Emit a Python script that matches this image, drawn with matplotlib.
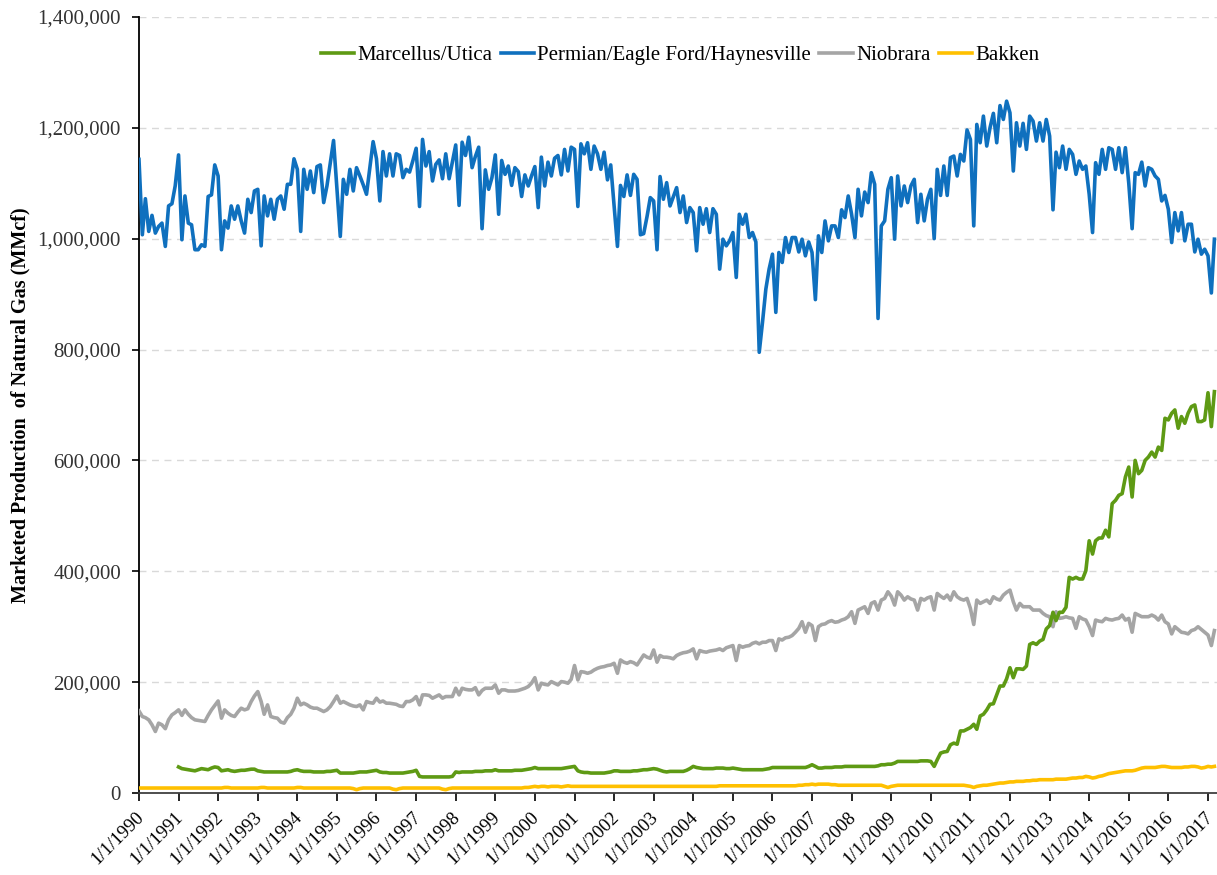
import numpy as np
import pandas as pd
import matplotlib
matplotlib.use("Agg")
import matplotlib.pyplot as plt
import matplotlib.dates as mdates
import matplotlib.transforms as mtransforms
from matplotlib.ticker import FuncFormatter, MultipleLocator

# monthly marketed production, thousands of MMcf, Jan 1990 - Mar 2017
permian = [
    1143, 1007, 1072, 1013, 1042, 1010, 1022, 1028, 986, 1059, 1063, 1095,
    1151, 998, 1077, 1028, 1025, 980, 980, 989, 986, 1076, 1079, 1133,
    1113, 980, 1032, 1019, 1059, 1035, 1059, 1032, 1010, 1071, 1047, 1086,
    1089, 987, 1077, 1041, 1071, 1035, 1071, 1077, 1053, 1098, 1098, 1144,
    1125, 1013, 1125, 1089, 1122, 1083, 1130, 1133, 1065, 1095, 1136, 1177,
    1090, 1004, 1107, 1080, 1125, 1086, 1128, 1113, 1097, 1080, 1128, 1175,
    1144, 1068, 1157, 1113, 1153, 1113, 1153, 1150, 1110, 1125, 1120, 1140,
    1163, 1058, 1179, 1131, 1157, 1104, 1134, 1142, 1108, 1153, 1108, 1138,
    1169, 1060, 1174, 1150, 1183, 1128, 1148, 1165, 1018, 1124, 1089, 1110,
    1151, 1044, 1141, 1116, 1131, 1096, 1128, 1121, 1076, 1115, 1095, 1113,
    1130, 1056, 1147, 1095, 1138, 1113, 1145, 1150, 1115, 1161, 1122, 1165,
    1161, 1058, 1171, 1153, 1173, 1125, 1167, 1153, 1125, 1156, 1106, 1133,
    1060, 986, 1096, 1076, 1115, 1078, 1116, 1107, 1007, 1009, 1040, 1074,
    1068, 980, 1112, 1071, 1101, 1059, 1075, 1092, 1047, 1077, 1029, 1056,
    1047, 978, 1056, 1026, 1054, 1011, 1054, 1044, 945, 999, 987, 996,
    1011, 930, 1044, 1026, 1044, 1002, 1011, 994, 795, 849, 909, 945,
    972, 867, 975, 957, 1002, 975, 1002, 1002, 976, 999, 969, 994,
    975, 890, 1005, 975, 1032, 996, 1023, 1023, 1002, 1052, 1038, 1077,
    1044, 1002, 1089, 1041, 1084, 1065, 1119, 1098, 856, 1023, 1032, 1089,
    1110, 999, 1113, 1059, 1095, 1065, 1095, 1107, 1029, 1080, 1032, 1071,
    1089, 1000, 1125, 1078, 1131, 1078, 1146, 1149, 1113, 1152, 1140, 1196,
    1179, 1023, 1206, 1173, 1221, 1167, 1200, 1226, 1173, 1240, 1215, 1248,
    1227, 1122, 1209, 1167, 1208, 1161, 1221, 1212, 1176, 1209, 1176, 1215,
    1185, 1052, 1156, 1128, 1167, 1125, 1161, 1152, 1116, 1140, 1125, 1131,
    1080, 1011, 1137, 1116, 1161, 1125, 1164, 1161, 1125, 1164, 1119, 1164,
    1100, 1018, 1119, 1116, 1138, 1095, 1128, 1125, 1113, 1107, 1068, 1078,
    1053, 993, 1047, 1014, 1047, 996, 1026, 1026, 976, 999, 972, 981,
    969, 902, 999,
]

niobrara = [
    148, 138, 136, 132, 123, 111, 126, 123, 116, 132, 141, 145,
    150, 140, 150, 142, 136, 132, 131, 130, 129, 140, 150, 158,
    166, 135, 150, 144, 140, 138, 146, 153, 150, 152, 165, 175,
    183, 165, 142, 159, 138, 136, 135, 128, 126, 136, 142, 153,
    171, 159, 162, 159, 155, 153, 153, 150, 147, 150, 156, 165,
    175, 162, 165, 162, 159, 157, 156, 159, 150, 165, 163, 162,
    171, 164, 166, 162, 162, 161, 160, 157, 156, 165, 165, 168,
    174, 159, 177, 177, 176, 171, 174, 177, 171, 174, 174, 174,
    189, 177, 189, 187, 186, 186, 190, 177, 185, 189, 189, 189,
    195, 180, 186, 186, 184, 184, 184, 185, 187, 189, 192, 198,
    208, 186, 198, 196, 195, 201, 198, 195, 201, 200, 198, 205,
    230, 204, 219, 218, 216, 218, 222, 225, 227, 228, 230, 231,
    234, 216, 240, 236, 234, 237, 235, 231, 240, 249, 245, 243,
    258, 236, 248, 245, 245, 244, 242, 248, 251, 253, 254, 256,
    260, 242, 257, 255, 254, 256, 257, 258, 260, 257, 262, 264,
    266, 239, 266, 263, 265, 266, 270, 272, 269, 272, 272, 275,
    275, 257, 278, 276, 280, 281, 284, 290, 297, 309, 290, 306,
    302, 275, 300, 304, 305, 309, 311, 308, 309, 312, 314, 318,
    327, 306, 330, 333, 336, 324, 342, 345, 330, 348, 351, 363,
    355, 339, 363, 357, 348, 354, 350, 348, 330, 351, 348, 352,
    354, 330, 360, 355, 351, 357, 348, 363, 354, 350, 348, 351,
    333, 304, 348, 342, 345, 348, 342, 354, 350, 348, 357, 362,
    366, 345, 330, 342, 336, 336, 336, 330, 330, 330, 324, 320,
    318, 300, 327, 315, 316, 318, 316, 315, 297, 318, 314, 312,
    300, 284, 312, 310, 309, 315, 313, 312, 314, 315, 321, 312,
    315, 290, 324, 321, 318, 318, 318, 321, 318, 312, 321, 309,
    305, 287, 300, 295, 290, 289, 287, 293, 295, 300, 295, 290,
    285, 266, 293,
]

# Marcellus/Utica series begins Jan 1991
marcellus = [
    47, 44, 43, 42, 41, 40, 42, 44, 43, 42, 45, 47,
    46, 40, 41, 42, 40, 39, 40, 41, 41, 42, 43, 43,
    40, 39, 38, 38, 38, 38, 38, 38, 38, 38, 39, 41,
    42, 40, 39, 39, 39, 38, 38, 38, 38, 39, 39, 40,
    41, 36, 36, 36, 36, 36, 37, 38, 38, 38, 39, 40,
    41, 38, 37, 37, 36, 36, 36, 36, 36, 37, 38, 39,
    41, 30, 29, 29, 29, 29, 29, 29, 29, 29, 29, 30,
    38, 37, 38, 38, 38, 38, 39, 39, 39, 40, 40, 40,
    42, 40, 40, 40, 40, 40, 41, 41, 41, 42, 43, 44,
    46, 44, 44, 44, 44, 44, 44, 44, 44, 45, 46, 47,
    48, 40, 38, 37, 37, 36, 36, 36, 36, 36, 37, 38,
    40, 40, 39, 39, 39, 39, 40, 40, 41, 42, 42, 43,
    44, 43, 41, 39, 38, 39, 39, 39, 39, 39, 41, 44,
    48, 46, 45, 44, 44, 44, 44, 45, 45, 45, 44, 44,
    45, 44, 43, 42, 42, 42, 42, 42, 42, 42, 43, 44,
    46, 46, 46, 46, 46, 46, 46, 46, 46, 46, 46, 48,
    51, 48, 45, 45, 46, 46, 46, 47, 47, 47, 48, 48,
    48, 48, 48, 48, 48, 48, 48, 48, 49, 51, 51, 52,
    52, 54, 57, 57, 57, 57, 57, 57, 57, 58, 58, 58,
    57, 48, 60, 72, 74, 75, 87, 90, 88, 112, 112, 115,
    118, 124, 115, 139, 142, 150, 160, 161, 177, 193, 193, 206,
    226, 208, 224, 224, 223, 229, 268, 271, 268, 274, 277, 296,
    302, 326, 311, 326, 326, 335, 389, 386, 389, 386, 386, 401,
    455, 431, 455, 460, 460, 474, 462, 522, 528, 537, 540, 570,
    588, 534, 600, 576, 582, 600, 606, 615, 606, 624, 618, 676,
    673, 685, 691, 658, 679, 667, 685, 697, 700, 670, 670, 673,
    722, 661, 724,
]

bakken = [
    9, 9, 9, 9, 9, 9, 9, 9, 9, 9, 9, 9,
    9, 9, 9, 9, 9, 9, 9, 9, 9, 9, 9, 9,
    9, 9, 10, 10, 9, 9, 9, 9, 9, 9, 9, 9,
    9, 10, 10, 9, 9, 9, 9, 9, 9, 9, 9, 9,
    10, 10, 9, 9, 9, 9, 9, 9, 9, 9, 9, 9,
    9, 9, 9, 9, 9, 8, 6, 8, 9, 9, 9, 9,
    9, 9, 9, 9, 9, 7, 6, 8, 9, 9, 9, 9,
    9, 9, 9, 9, 9, 9, 9, 9, 7, 6, 8, 9,
    9, 9, 9, 9, 9, 9, 9, 9, 9, 9, 9, 9,
    9, 9, 9, 9, 9, 9, 9, 9, 9, 10, 10, 11,
    12, 11, 12, 12, 11, 12, 12, 12, 11, 12, 13, 12,
    12, 12, 12, 12, 12, 12, 12, 12, 12, 12, 12, 12,
    12, 12, 12, 12, 12, 12, 12, 12, 12, 12, 12, 12,
    12, 12, 12, 12, 12, 12, 12, 12, 12, 12, 12, 12,
    12, 12, 12, 12, 12, 12, 12, 12, 13, 13, 13, 13,
    13, 13, 13, 13, 13, 13, 13, 13, 13, 13, 13, 13,
    13, 13, 13, 13, 13, 13, 13, 13, 14, 14, 15, 15,
    16, 15, 16, 16, 16, 16, 15, 15, 14, 14, 14, 14,
    14, 14, 14, 14, 14, 14, 14, 14, 14, 14, 12, 10,
    12, 13, 14, 14, 14, 14, 14, 14, 14, 14, 14, 14,
    14, 14, 14, 14, 14, 14, 14, 14, 14, 14, 14, 13,
    12, 10, 12, 13, 14, 14, 15, 16, 17, 18, 18, 19,
    20, 20, 21, 21, 21, 22, 22, 23, 23, 24, 24, 24,
    24, 24, 25, 25, 25, 25, 26, 27, 27, 28, 28, 30,
    29, 27, 28, 30, 31, 33, 35, 36, 37, 38, 39, 40,
    40, 40, 41, 43, 45, 46, 46, 46, 46, 47, 48, 48,
    47, 46, 46, 46, 46, 47, 47, 48, 48, 47, 45, 46,
    48, 47, 48,
]

months = pd.date_range("1990-01-01", periods=len(permian), freq="MS")
months_mu = pd.date_range("1991-01-01", periods=len(marcellus), freq="MS")

plt.rcParams["font.family"] = ["Liberation Serif", "DejaVu Serif"]

fig = plt.figure(figsize=(12.17, 8.75), dpi=100)
ax = fig.add_axes([0.1142, 0.0937, 0.8858, 0.887])

lw = 2.6
ax.plot(months_mu, np.array(marcellus) * 1000, color="#5E9A14", lw=lw, label="Marcellus/Utica", zorder=4)
ax.plot(months, np.array(permian) * 1000, color="#0F70BE", lw=lw, label="Permian/Eagle Ford/Haynesville", zorder=3)
ax.plot(months, np.array(niobrara) * 1000, color="#A5A5A5", lw=lw, label="Niobrara", zorder=3)
ax.plot(months, np.array(bakken) * 1000, color="#FFC000", lw=lw, label="Bakken", zorder=3)

ax.set_ylim(0, 1400000)
ax.set_xlim(pd.Timestamp("1990-01-01"), pd.Timestamp("2017-03-25"))
ax.yaxis.set_major_locator(MultipleLocator(200000))
ax.yaxis.set_major_formatter(FuncFormatter(lambda v, p: f"{int(v):,}"))
ax.grid(axis="y", linestyle=(0, (5, 4)), color="#D9D9D9", lw=1)
ax.set_axisbelow(True)

ax.xaxis.set_major_locator(mdates.YearLocator())
ax.xaxis.set_major_formatter(FuncFormatter(lambda v, p: "1/1/" + str(mdates.num2date(v).year)))

ax.tick_params(axis="x", direction="out", length=6, width=1.2, labelsize=13.5, pad=5)
ax.tick_params(axis="y", direction="out", length=5, width=1.2, labelsize=15, labelcolor="#333333", pad=8)

# rotated date labels, nudged a few pixels left so the last one stays inside
shift = mtransforms.ScaledTranslation(-0.04, 0, fig.dpi_scale_trans)
for lbl in ax.get_xticklabels():
    lbl.set_rotation(45)
    lbl.set_ha("right")
    lbl.set_va("top")
    lbl.set_rotation_mode("anchor")
    lbl.set_transform(lbl.get_transform() + shift)

for s in ["top", "right"]:
    ax.spines[s].set_visible(False)
ax.spines["left"].set_linewidth(1.3)
ax.spines["bottom"].set_linewidth(1.3)
ax.spines["bottom"].set_color("#404040")

ax.set_ylabel("Marketed Production  of Natural Gas (MMcf)", fontsize=14.5, fontweight="bold", labelpad=5)

ax.legend(loc="center", bbox_to_anchor=(0.502, 0.950), ncol=4, frameon=False, fontsize=15,
          handlelength=1.6, handletextpad=0.15, columnspacing=0.4)

fig.savefig("out.png", dpi=100)
